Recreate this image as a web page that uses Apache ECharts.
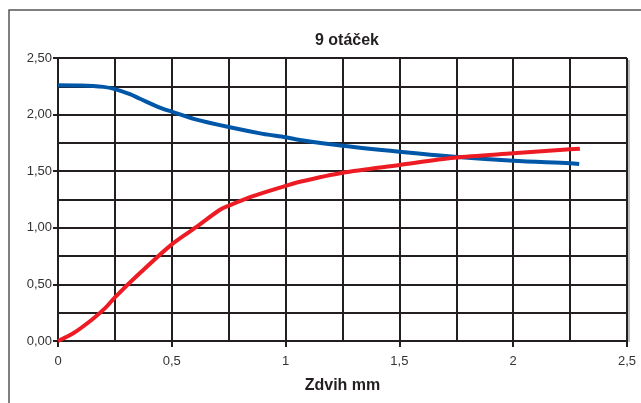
<!DOCTYPE html>
<html><head><meta charset="utf-8">
<script src="https://cdn.jsdelivr.net/npm/echarts@6/dist/echarts.min.js"></script>
<style>html,body{margin:0;padding:0;background:#fff}#c{width:641px;height:403px}</style>
</head><body><div id="c"></div>
<script>
const titleText = '9 otáček';
const xAxisName = 'Zdvih mm';
const blueX = [0, 0.1, 0.2, 0.25, 0.316, 0.36, 0.45, 0.5, 0.6, 0.75, 0.9, 1.0, 1.063, 1.25, 1.5, 1.74, 2.0, 2.25, 2.29];
const blueY = [2.26, 2.258, 2.245, 2.225, 2.18, 2.14, 2.06, 2.026, 1.96, 1.89, 1.83, 1.80, 1.776, 1.725, 1.672, 1.628, 1.593, 1.57, 1.564];
const redX = [0, 0.067, 0.15, 0.207, 0.25, 0.36, 0.5, 0.61, 0.71, 0.75, 0.85, 1.0, 1.063, 1.25, 1.5, 1.74, 2.0, 2.25, 2.293];
const redY = [0, 0.068, 0.19, 0.29, 0.386, 0.60, 0.854, 1.01, 1.157, 1.195, 1.275, 1.37, 1.407, 1.487, 1.555, 1.619, 1.658, 1.693, 1.699];

const zip = (xs, ys) => xs.map((x, i) => [x, ys[i]]);
const chart = echarts.init(document.getElementById('c'), null, {renderer: 'canvas'});
const gridLine = {show: true, lineStyle: {color: '#231f20', width: 2}};
const FONT = 'Liberation Sans, Arial, sans-serif';
chart.setOption({
  animation: false,
  backgroundColor: '#fff',
  graphic: [
    {type: 'rect', shape: {x: 9, y: 10, width: 700, height: 500}, style: {fill: 'none', stroke: '#555', lineWidth: 1.5}, z: -1},
    {type: 'rect', shape: {x: 628, y: 60, width: 2, height: 282}, style: {fill: '#bbb'}, z: -1}
  ],
  title: {
    text: titleText, left: 342, top: 28, textAlign: 'center',
    textStyle: {fontFamily: FONT, fontSize: 16, fontWeight: 'bold', color: '#231f20'}
  },
  grid: {left: 58, right: 14, top: 58, bottom: 62, show: false},
  xAxis: {
    type: 'value', min: 0, max: 2.5, interval: 0.5,
    name: xAxisName, nameLocation: 'middle', nameGap: 37,
    nameTextStyle: {fontFamily: FONT, fontSize: 16, fontWeight: 'bold', color: '#231f20'},
    axisLine: {show: true, lineStyle: {color: '#231f20', width: 2}},
    axisTick: {show: true, length: 6, lineStyle: {color: '#231f20', width: 2}},
    axisLabel: {margin: 14, fontFamily: FONT, fontSize: 13, color: '#333',
      formatter: v => String(v).replace('.', ',')},
    splitLine: gridLine,
    minorTick: {show: false, splitNumber: 2},
    minorSplitLine: gridLine
  },
  yAxis: {
    type: 'value', min: 0, max: 2.5, interval: 0.5,
    axisLine: {show: true, lineStyle: {color: '#231f20', width: 2}},
    axisTick: {show: true, length: 5, lineStyle: {color: '#231f20', width: 2}},
    axisLabel: {margin: 6, fontFamily: FONT, fontSize: 13, color: '#333',
      formatter: v => v.toFixed(2).replace('.', ',')},
    splitLine: gridLine,
    minorTick: {show: false, splitNumber: 2},
    minorSplitLine: gridLine
  },
  series: [
    {type: 'line', data: zip(blueX, blueY), smooth: 0.3, showSymbol: false,
      lineStyle: {color: '#0057a8', width: 4}, z: 3},
    {type: 'line', data: zip(redX, redY), smooth: 0.3, showSymbol: false,
      lineStyle: {color: '#ed1c24', width: 4}, z: 4}
  ]
});
</script></body></html>
